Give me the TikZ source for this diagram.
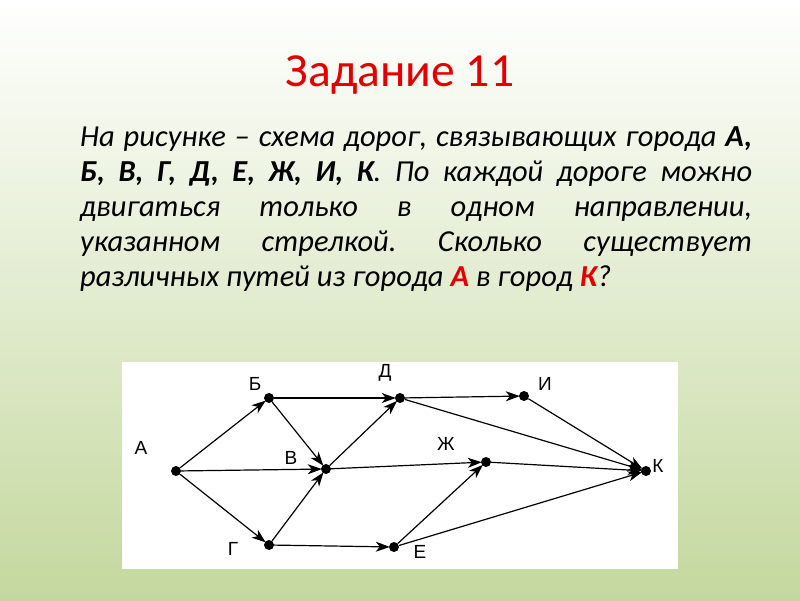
\documentclass[tikz,border=0pt]{standalone}
\usepackage{fontspec}
\setmainfont{Carlito}
\newfontfamily\lblfont{Liberation Sans}
\usetikzlibrary{arrows.meta}
\definecolor{bgbot}{RGB}{196,216,158}
\definecolor{bgmid}{RGB}{232,239,219}
\definecolor{titlered}{RGB}{228,0,0}
\tikzset{
  dot/.style={circle,fill=black,inner sep=0pt,minimum size=10pt},
  lbl/.style={font=\lblfont\fontsize{19}{22}\selectfont,inner sep=0pt},
  edge/.style={line width=1.2pt,-{Stealth[length=14pt,width=10pt,inset=4pt]},shorten >=-1pt}
}
\begin{document}
\begin{tikzpicture}[x=1pt,y=-1pt]
\shade[top color=white,middle color=bgmid,bottom color=bgbot] (0,0) rectangle (800,600);
\useasboundingbox (0,0) rectangle (800,600);
\node[font=\fontsize{47.5}{56}\selectfont,text=titlered] (title) at (400,75) {Задание 11};
\node[anchor=north west,text width=672pt,align=justify,inner sep=0pt,
  font=\itshape\fontsize{30.5}{35}\selectfont] (para) at (80,127)
{\frenchspacing\hyphenpenalty=10000 На рисунке -- схема дорог, связывающих города \textbf{А,}\linebreak
\textbf{Б, В, Г, Д, Е, Ж, И, К}. По каждой дороге можно\linebreak
двигаться только в одном направлении,\linebreak
указанном стрелкой. Сколько существует\linebreak
различных путей из города \textcolor{titlered}{\textbf{А}} в город \textcolor{titlered}{\textbf{К}}?};
\fill[white] (122,362) rectangle (678,569);
\node[dot] (A) at (176,471) {};
\node[dot] (B) at (269,398) {};
\node[dot] (V) at (326,469) {};
\node[dot] (G) at (269,545) {};
\node[dot] (D) at (400,398) {};
\node[dot] (E) at (394,547) {};
\node[dot] (I) at (524,396) {};
\node[dot] (Zh) at (486,462) {};
\node[dot] (K) at (646,471) {};
\node[lbl] (lA) at (141,448) {А};
\node[lbl] (lB) at (255,384) {Б};
\node[lbl] (lV) at (291,458) {В};
\node[lbl] (lG) at (233,549) {Г};
\node[lbl] (lD) at (385,373) {Д};
\node[lbl] (lE) at (420,552) {Е};
\node[lbl] (lZh) at (446,444) {Ж};
\node[lbl] (lI) at (545,384) {И};
\node[lbl] (lK) at (658,466) {К};
\draw[edge] (A) -- (B);
\draw[edge] (A) -- (V);
\draw[edge] (A) -- (G);
\draw[edge] (B) -- (V);
\draw[edge] (B) -- (D);
\draw[edge] (G) -- (V);
\draw[edge] (G) -- (E);
\draw[edge] (V) -- (D);
\draw[edge] (V) -- (Zh);
\draw[edge] (E) -- (Zh);
\draw[edge] (E) -- (K);
\draw[edge] (D) -- (I);
\draw[edge] (D) -- (K);
\draw[edge] (I) -- (K);
\draw[edge] (Zh) -- (K);
\end{tikzpicture}
\end{document}
